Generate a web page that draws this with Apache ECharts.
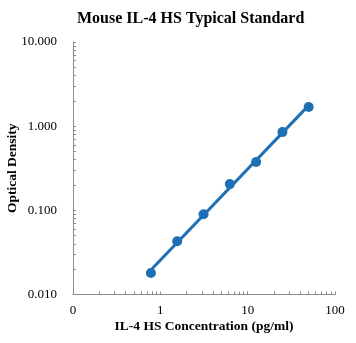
<!DOCTYPE html>
<html><head><meta charset="utf-8">
<script src="https://cdn.jsdelivr.net/npm/echarts@6/dist/echarts.min.js"></script>
<style>html,body{margin:0;padding:0;background:#fff}#c{width:356px;height:343px}</style>
</head><body><div id="c"></div>
<script>
const concentrations = [0.78, 1.56, 3.125, 6.25, 12.5, 25, 50];
const opticalDensity = [0.018, 0.043, 0.09, 0.205, 0.375, 0.85, 1.69];
const xTickValues = [0.1, 1, 10, 100];
const xTickLabels = ['0', '1', '10', '100'];
const yTickValues = [0.01, 0.1, 1, 10];
const yTickLabels = ['0.010', '0.100', '1.000', '10.000'];
const minorMultipliers = [1, 2, 3, 4, 5, 6, 7, 8, 9];

function logTicks(lo, hi) {
  const out = [];
  for (let d = lo; d < hi * 0.999; d *= 10) minorMultipliers.forEach(m => out.push(+(d * m).toPrecision(6)));
  out.push(hi);
  return out;
}
const xMinorTicks = logTicks(0.1, 100);
const yMinorTicks = logTicks(0.01, 10);

// power-law trendline (least squares in log-log space)
const lx = concentrations.map(Math.log10), ly = opticalDensity.map(Math.log10);
const n = lx.length, mx = lx.reduce((a,b)=>a+b)/n, my = ly.reduce((a,b)=>a+b)/n;
let sxy=0, sxx=0; for (let i=0;i<n;i++){sxy+=(lx[i]-mx)*(ly[i]-my); sxx+=(lx[i]-mx)**2;}
const slope = sxy/sxx, icpt = my - slope*mx;
const fitX = [concentrations[0], concentrations[n-1]];
const fitLine = fitX.map(x => [x, Math.pow(10, icpt + slope*Math.log10(x))]);

const blue = '#1f6fb5';
const axisGray = '#8c8c8c';
const serif = '"Liberation Serif", "Times New Roman", serif';
const chart = echarts.init(document.getElementById('c'), null, {renderer:'canvas'});
chart.setOption({
  animation:false,
  title:{text:'Mouse IL-4 HS Typical Standard', left:72, top:6,
    textStyle:{fontFamily:serif, fontWeight:'bold', fontSize:16, color:'#000'}},
  grid:{left:73, right:21, top:42, bottom:48.5, containLabel:false, outerBoundsMode:'none'},
  xAxis:{type:'log', logBase:10, min:0.1, max:100,
    name:'IL-4 HS Concentration (pg/ml)', nameLocation:'middle', nameGap:25, nameMoveOverlap:false,
    nameTextStyle:{fontFamily:serif, fontWeight:'bold', fontSize:13.5, color:'#000'},
    axisLine:{lineStyle:{color:axisGray, width:1}},
    axisTick:{show:true, inside:true, length:3, customValues:xMinorTicks, lineStyle:{color:axisGray}},
    minorTick:{show:false},
    splitLine:{show:false},
    axisLabel:{fontFamily:serif, fontSize:13, color:'#000', margin:10, customValues:xTickValues,
      formatter:v=>{const i=xTickValues.findIndex(t=>Math.abs(Math.log10(t)-Math.log10(v))<1e-6);return i>=0?xTickLabels[i]:'';}}},
  yAxis:{type:'log', logBase:10, min:0.01, max:10,
    name:'Optical Density', nameLocation:'middle', nameGap:53, nameRotate:90, nameMoveOverlap:false,
    nameTextStyle:{fontFamily:serif, fontWeight:'bold', fontSize:13.5, color:'#000'},
    axisLine:{show:true, lineStyle:{color:axisGray, width:1}},
    axisTick:{show:true, inside:true, length:3, customValues:yMinorTicks, lineStyle:{color:axisGray}},
    minorTick:{show:false},
    splitLine:{show:false},
    axisLabel:{fontFamily:serif, fontSize:13, color:'#000', margin:16, customValues:yTickValues,
      formatter:v=>{const i=yTickValues.findIndex(t=>Math.abs(Math.log10(t)-Math.log10(v))<1e-6);return i>=0?yTickLabels[i]:'';}}},
  series:[
    {type:'line', data:fitLine, showSymbol:false, symbol:'none', lineStyle:{color:blue, width:3}, z:2},
    {type:'scatter', data:concentrations.map((x,i)=>[x, opticalDensity[i]]), symbol:'circle', symbolSize:10,
      itemStyle:{color:blue, opacity:1}, z:3}
  ]
});
</script></body></html>
